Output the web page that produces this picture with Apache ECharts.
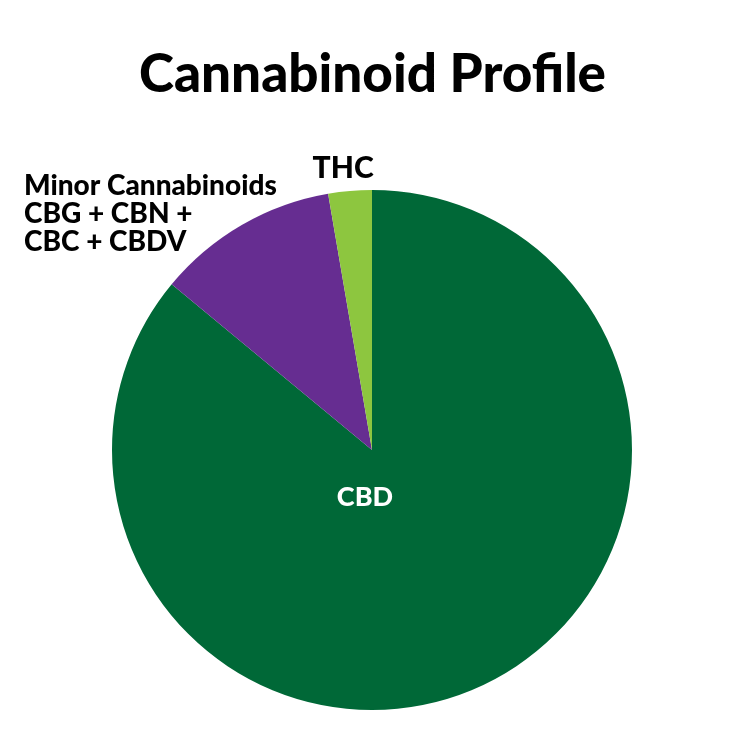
<!DOCTYPE html>
<html><head><meta charset="utf-8">
<script src="https://cdn.jsdelivr.net/npm/echarts@6/dist/echarts.min.js"></script>
<style>html,body{margin:0;padding:0;background:#fff}#c{width:745px;height:745px}</style>
</head><body><div id="c"></div>
<script>
const titleText = 'Cannabinoid Profile';
const categories = ['CBD', 'Minor Cannabinoids\nCBG + CBN +\nCBC + CBDV', 'THC'];
const values = [86, 11.3, 2.7];
const colors = ['#006837', '#662D91', '#8DC63F'];

const FONT = 'Lato';
const labelCfg = [
  { position: 'center', color: '#fff', fontSize: 27, offset: [-7, 47] },
  { position: 'outside', color: '#000', fontSize: 28, lineHeight: 28, alignTo: 'edge', edgeDistance: 24, overflow: 'none', offset: [0, 2] },
  { position: 'outside', color: '#000', fontSize: 30, offset: [30, -8] }
];
const chart = echarts.init(document.getElementById('c'));
chart.setOption({
  animation: false,
  title: { text: titleText, left: 'center', top: 43,
    textStyle: { fontFamily: FONT, fontWeight: 900, fontSize: 53, color: '#000' } },
  series: [{
    type: 'pie', center: [372, 450], radius: 260, startAngle: 90, clockwise: true,
    avoidLabelOverlap: false,
    labelLine: { show: false, length: 15, length2: 0 },
    data: categories.map((n, i) => ({
      name: n, value: values[i],
      itemStyle: { color: colors[i] },
      label: Object.assign({ show: true, formatter: '{b}', fontFamily: FONT, fontWeight: 900 }, labelCfg[i])
    }))
  }]
});
</script></body></html>
